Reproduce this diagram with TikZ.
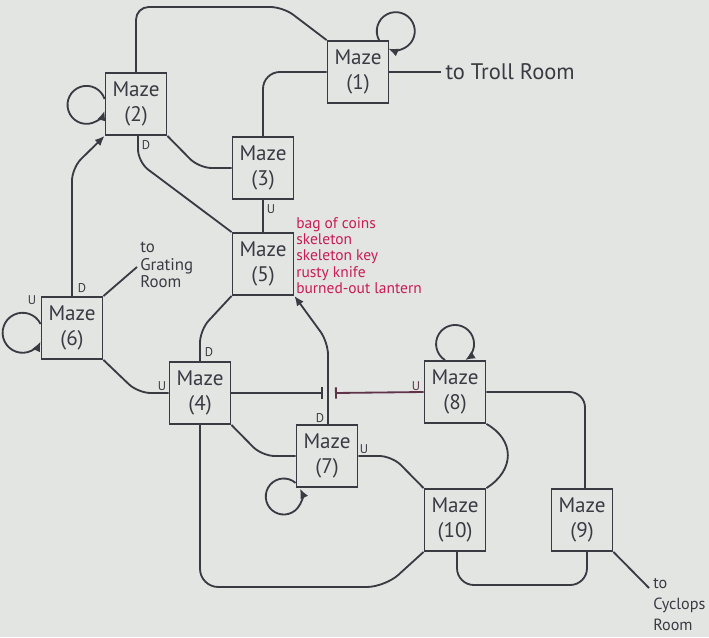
\documentclass[tikz,border=0pt]{standalone}
\usepackage{fontspec}
\setmainfont{PT Sans}
\usepackage{xcolor}
\usepackage{tikz}
\usetikzlibrary{arrows.meta, calc}
\definecolor{MapPaper}{RGB}{227, 229, 227}
\definecolor{MapInk}{RGB}{58, 58, 66}
\definecolor{MapInkRed}{RGB}{96, 52, 72}
\definecolor{LootRed}{RGB}{200, 28, 88}

\begin{document}
\begin{tikzpicture}[
  x=0.025cm, y=-0.025cm,
  maze/.style={draw=MapInk, line width=1.3pt, minimum width=1.525cm, minimum height=1.55cm,
    inner sep=0pt, align=center, text=MapInk, font=\fontsize{15}{18}\selectfont},
  link/.style={draw=MapInk, line width=1.3pt, rounded corners=9pt},
  arr/.style={link, -{Latex[length=7pt, width=6pt]}},
  ud/.style={text=MapInk, inner sep=0pt, font=\fontsize{9}{10}\selectfont},
  note/.style={text=MapInk, align=left, inner sep=0pt},
  loot/.style={text=LootRed, align=left, inner sep=0pt, font=\fontsize{11}{11.6}\selectfont}
]
\useasboundingbox (0,0) rectangle (709,637);
\fill[MapPaper] (0,0) rectangle (709,637);

\node[maze] (m1) at (358,72) {Maze\\(1)};
\node[maze] (m2) at (136,104) {Maze\\(2)};
\node[maze] (m3) at (263,168) {Maze\\(3)};
\node[maze] (m5) at (263,264) {Maze\\(5)};
\node[maze] (m6) at (72,328) {Maze\\(6)};
\node[maze] (m4) at (200,393) {Maze\\(4)};
\node[maze] (m7) at (327,456) {Maze\\(7)};
\node[maze] (m8) at (455,392) {Maze\\(8)};
\node[maze] (m10) at (455,520) {Maze\\(10)};
\node[maze] (m9) at (582,520) {Maze\\(9)};

\node[note, anchor=west, inner sep=3pt, font=\fontsize{16}{18}\selectfont] (troll) at (441,72) {to Troll Room};
\coordinate (grt) at (137,267);
\node[note, anchor=west, font=\fontsize{12}{12.4}\selectfont] (grating) at ($(grt)+(3,-2)$) {to\\Grating\\Room};
\coordinate (cyc) at (649,588);
\node[note, anchor=north west, font=\fontsize{11.5}{15}\selectfont] (cyclops) at (653,578) {to\\Cyclops\\Room};
\node[loot, anchor=north west] (loot) at (296,217) {bag of coins\\skeleton\\skeleton key\\rusty knife\\burned-out lantern};

\node[ud] (u3) at (271,209) {U};
\node[ud] (d2) at (146,145) {D};
\node[ud] (d6) at (82,288) {D};
\node[ud] (u6) at (32,300) {U};
\node[ud] (u4) at (162,386) {U};
\node[ud] (d4) at (209,352) {D};
\node[ud] (d7) at (320,418) {D};
\node[ud] (u7) at (364,449) {U};
\node[ud, text=MapInkRed] (u8) at (416,386) {U};

\draw[link] (m2.north) -- (136,7) -- (283,7) -- (m1.north west);
\draw[link, rounded corners=12pt] (m1.west) -| (m3.north);
\draw[link] (m1.east) -- (troll.west);
\draw[link] (m2.south east) -- (199,168) -- (m3.west);
\draw[link] ($(m2.south)+(2,0)$) -- (138,162) -- (m5.north west);
\draw[link] (m3.south) -- (m5.north);
\draw[arr] (m6.north) -- (72,168) -- (m2.south west);
\draw[link] (m6.north east) -- (grt);
\draw[link] (m6.south east) -- (138,393) -- (m4.west);
\draw[link] (m4.north) -- (200,330) -- (m5.south west);
\draw[arr] ($(m7.north)+(1,0)$) -- (328,342) -- (m5.south east);
\coordinate (xing) at ($(m7.north |- m4.east)+(1,0)$);
\draw[link, -{Bar[width=8pt]}] (m4.east) -- ($(xing)+(-5,0)$);
\draw[link, draw=MapInkRed, {Bar[width=8pt]}-] ($(xing)+(7,0)$) -- (m8.west);
\draw[link] (m4.south east) -- (262,456) -- (m7.west);
\draw[link, rounded corners=13pt] (m4.south) -- (200,587) -- (385,587) -- (m10.south west);
\draw[link] (m7.east) -- (392,456) -- (m10.north west);
\draw[link] (m8.south east) .. controls (515,440) and (515,470) .. (m10.north east);
\draw[link, rounded corners=11pt] (m8.east) -| ($(m9.north)+(3,0)$);
\draw[link, rounded corners=12pt] ($(m10.south)+(2,0)$) -- (457,585) -- (587,585) -- ($(m9.south)+(5,0)$);
\draw[link] (m9.south east) -- (cyc);

\draw[arr] ($(m1.north)+(21,0)$) arc[start angle=152, end angle=473, radius=19];
\draw[arr] ($(m2.west)+(0,-5)$) arc[start angle=-18, end angle=-342, radius=19];
\draw[arr] ($(m6.west)+(0,-4)$) arc[start angle=-26, end angle=-334, radius=20];
\draw[arr] ($(m7.south west)+(0,-5)$) arc[start angle=-49, end angle=-386, radius=18];
\draw[arr] ($(m8.north)+(-10,0)$) arc[start angle=122, end angle=418, radius=19];
\end{tikzpicture}
\end{document}
